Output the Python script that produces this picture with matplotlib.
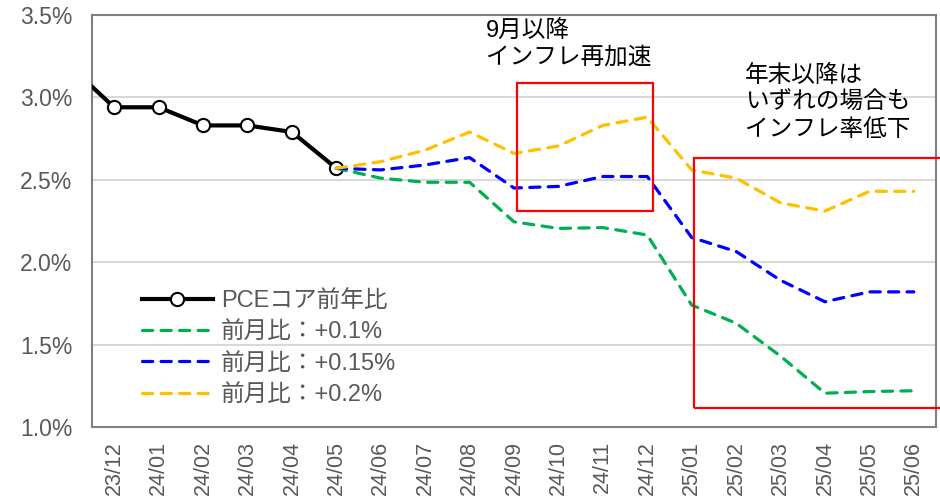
import numpy as np
import matplotlib
matplotlib.use('Agg')
import matplotlib.pyplot as plt
from matplotlib.patches import Rectangle

plt.rcParams['font.family'] = ['Liberation Sans', 'Noto Sans CJK JP']

# months (23/11 is only there so the first segment enters from the left edge)
months = ['23/11', '23/12', '24/01', '24/02', '24/03', '24/04', '24/05', '24/06',
          '24/07', '24/08', '24/09', '24/10', '24/11', '24/12', '25/01', '25/02',
          '25/03', '25/04', '25/05', '25/06']
core = [3.19, 2.94, 2.94, 2.83, 2.83, 2.79, 2.57]          # 23/11 .. 24/05
# scenarios from 24/05 to 25/06
mom_01 = [2.57, 2.51, 2.485, 2.485, 2.245, 2.205, 2.21, 2.165, 1.74, 1.63, 1.43, 1.205, 1.215, 1.22]
mom_015 = [2.57, 2.56, 2.59, 2.635, 2.45, 2.46, 2.52, 2.52, 2.15, 2.065, 1.89, 1.76, 1.82, 1.82]
mom_02 = [2.57, 2.61, 2.68, 2.79, 2.66, 2.705, 2.83, 2.88, 2.56, 2.51, 2.36, 2.31, 2.43, 2.43]
yticks = [1.0, 1.5, 2.0, 2.5, 3.0, 3.5]

grey = '#595959'
fig = plt.figure(figsize=(9.4, 5.04), dpi=100)
ax = fig.add_axes([92/940, 77/504, 844/940, 412/504])

x = np.arange(len(months))
x_core = x[:len(core)]
x_sc = x[len(core)-1:]

ax.plot(x_core, core, color='black', lw=3, marker='o', ms=9.5,
        mfc='white', mec='black', mew=1.5, label='PCEコア前年比', zorder=3)
dash = dict(lw=2.3, dashes=(3.2, 2.6), dash_capstyle='round', zorder=4)
ax.plot(x_sc, mom_01, color='#00B050', label='前月比：+0.1%', **dash)
ax.plot(x_sc, mom_015, color='#0000FF', label='前月比：+0.15%', **dash)
ax.plot(x_sc, mom_02, color='#FFC000', label='前月比：+0.2%', **dash)

ax.set_xlim(0.5, len(months) - 0.5)
ax.set_ylim(1.0, 3.5)
ax.set_yticks(yticks)
ax.set_yticklabels(['%.1f%%' % v for v in yticks])
ax.set_xticks(x[1:])
ax.set_xticklabels(months[1:], rotation=90)
ax.tick_params(length=0, labelcolor=grey)
ax.tick_params(axis='y', pad=14, labelsize=16.5)
ax.tick_params(axis='x', pad=10, labelsize=15.5)
ax.grid(axis='y', color='#d9d9d9', lw=1.5)
ax.set_axisbelow(True)
for s in ax.spines.values():
    s.set_color('#808080')
    s.set_linewidth(1.5)

# red boxes
ax.add_patch(Rectangle((10.06, 2.312), 3.07, 0.777, fill=False,
                       ec='red', lw=1.6, clip_on=False, zorder=5))
ax.add_patch(Rectangle((14.06, 1.117), 6.0, 1.513, fill=False,
                       ec='red', lw=1.6, clip_on=False, zorder=5))

fig.text(486/940, 1 - 20/504, '9月以降\nインフレ再加速', fontsize=17,
         va='top', ha='left', linespacing=1.28)
fig.text(745/940, 1 - 65/504, '年末以降は\nいずれの場合も\nインフレ率低下', fontsize=17,
         va='top', ha='left', linespacing=1.28)

leg = ax.legend(loc='upper left', bbox_to_anchor=(0.059, 0.333), frameon=False,
                fontsize=17, handlelength=3.0, handletextpad=0.35,
                labelspacing=0.4, borderpad=0, borderaxespad=0)
for t in leg.get_texts():
    t.set_color(grey)

fig.savefig('out.png', dpi=100)
